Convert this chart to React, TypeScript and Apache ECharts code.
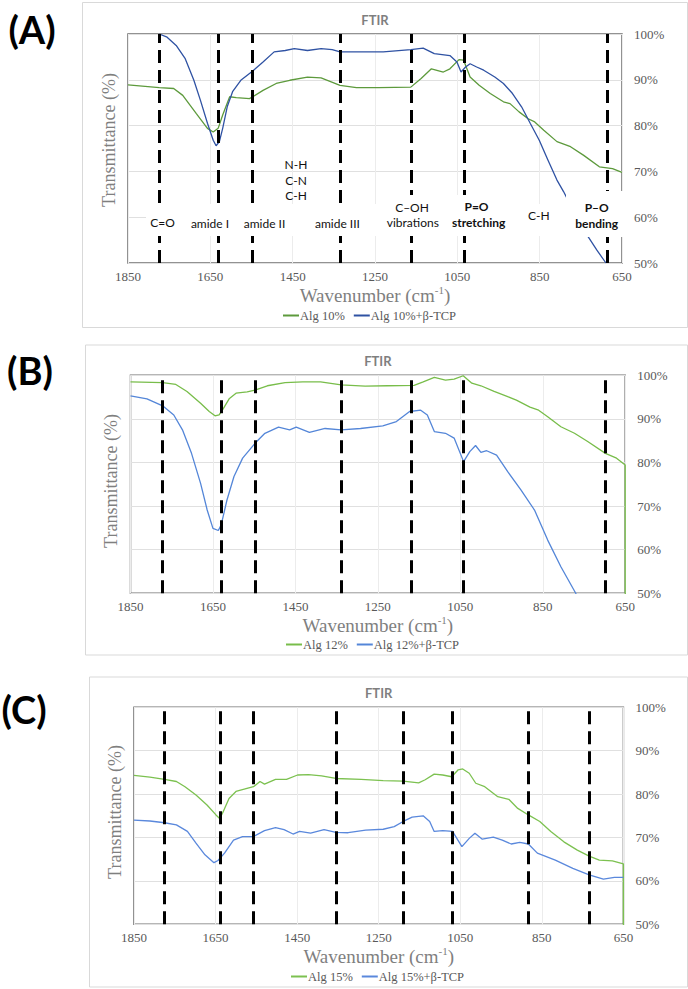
import React, { useEffect, useRef } from "react";
import * as echarts from "echarts";

// ---------- Panel A : Alg 10% ----------
const wnAlg10 = [1850,1774,1739,1717,1684,1657,1643,1631,1620,1603,1587,1555,1547,1522,1490,1457,1414,1381,1335,1295,1241,1163,1138,1113,1084,1068,1046,1035,1019,997,970,938,922,900,878,862,840,808,775,743,705,673,650];
const tAlg10 = [88.9,88.3,88.1,86.6,82.6,79.4,78.6,79.4,82.3,86.3,86.1,85.9,86.3,87.7,89.2,89.9,90.6,90.4,88.8,88.3,88.3,88.4,90.3,92.4,91.7,92.4,94.4,94.3,90.6,88.8,87.0,85.2,84.8,83.0,81.5,80.8,79.0,76.5,75.4,73.5,71.0,70.6,69.8];
const wnAlg10TCP = [1774,1755,1733,1711,1690,1674,1657,1643,1636,1628,1620,1609,1596,1576,1547,1522,1495,1468,1446,1414,1381,1354,1335,1295,1230,1163,1133,1106,1068,1051,1041,1030,1019,1003,986,959,938,916,894,873,851,830,808,792,765,732,711,689];
const tAlg10TCP = [100,99.3,97.5,94.6,89.9,85.5,80.5,76.8,75.6,76.5,79.4,84.1,87.4,89.9,91.9,93.9,96.1,96.4,96.8,96.4,96.8,96.6,96.1,96.1,96.1,96.6,96.9,95.7,95.3,93.9,91.7,92.8,93.5,92.8,92.1,90.6,89.2,87.0,84.1,80.5,76.8,72.5,68.1,65.6,60.8,55.7,52.8,50.0];
const dashA = [1774,1631,1547,1335,1163,1034,685];

// ---------- Panel B : Alg 12% ----------
const wnAlg12 = [1850,1772,1740,1713,1680,1659,1645,1635,1626,1610,1594,1567,1548,1518,1475,1432,1389,1339,1281,1227,1162,1140,1113,1086,1065,1043,1022,1000,968,935,914,881,860,838,806,773,741,698,671,650,650];
const tAlg12 = [98.5,98.3,97.9,96.3,93.6,91.7,90.7,90.9,92.2,94.7,95.9,96.2,96.6,97.6,98.3,98.5,98.5,97.8,97.5,97.6,97.7,98.5,99.5,98.9,99.1,99.9,98.2,97.6,96.3,95.1,94.3,92.7,92.0,90.5,88.2,86.7,84.8,82.1,81.0,79.4,0];
const wnAlg12TCP = [1850,1810,1772,1745,1724,1702,1680,1664,1650,1637,1630,1616,1599,1578,1548,1524,1491,1464,1448,1416,1378,1339,1292,1238,1205,1173,1146,1130,1113,1086,1065,1042,1027,1013,1000,986,962,935,903,870,838,806,770,740];
const tAlg12TCP = [95.3,94.6,93.0,90.9,87.5,82.1,75.2,69.1,64.9,64.4,65.7,71.4,76.8,81.0,84.4,86.7,88.1,87.5,88.1,86.9,87.8,87.5,87.8,88.4,89.4,91.7,92.0,90.9,87.1,86.7,85.6,80.2,82.5,83.9,82.3,82.7,81.7,77.9,73.7,69.1,62.2,56.1,50.0,45.0];
const dashB = [1772,1630,1548,1339,1168,1042,698];

// ---------- Panel C : Alg 15% ----------
const wnAlg15 = [1850,1811,1775,1746,1725,1698,1671,1649,1640,1633,1617,1600,1573,1557,1541,1530,1503,1476,1449,1422,1390,1355,1293,1239,1190,1152,1136,1114,1093,1071,1055,1044,1028,1012,990,958,931,909,883,855,828,796,763,734,709,677,650,650];
const tAlg15 = [84.3,83.9,83.4,82.9,81.7,79.8,77.5,75.2,74.4,75.6,79.0,80.6,81.3,81.7,82.9,82.3,83.4,83.4,84.4,84.5,84.2,83.6,83.4,83.1,83.0,82.6,83.3,84.6,84.4,84.0,85.6,85.8,84.8,82.5,81.7,79.4,78.8,76.7,75.2,73.7,71.4,69.0,67.1,65.7,64.8,64.6,63.9,0];
const wnAlg15TCP = [1850,1811,1775,1746,1719,1698,1676,1654,1644,1628,1606,1584,1557,1530,1503,1482,1460,1444,1417,1384,1355,1325,1282,1239,1212,1190,1168,1141,1125,1114,1093,1069,1046,1028,1014,996,969,947,925,904,883,861,817,774,734,699,672,650];
const tAlg15TCP = [74.0,73.8,73.4,72.9,71.4,68.7,66.0,64.2,64.7,66.4,69.4,70.2,70.2,71.6,72.3,71.8,70.8,71.4,71.0,71.8,71.2,71.1,71.7,71.9,72.5,73.7,74.7,75.0,73.7,71.4,71.6,71.4,67.9,69.8,71.0,69.6,70.1,69.4,68.5,68.9,68.5,66.4,64.8,62.9,61.4,60.4,60.8,60.8];
const dashC = [1775,1638,1557,1355,1190,1069,883,734];

const seriesNames = [
  ["Alg 10%", "Alg 10%+β-TCP"],
  ["Alg 12%", "Alg 12%+β-TCP"],
  ["Alg 15%", "Alg 15%+β-TCP"],
];
const panelLetters = ["(A)", "(B)", "(C)"];
const yTicks = [50, 60, 70, 80, 90, 100];

const pairs = (w: number[], t: number[]) => w.map((x, i) => [x, t[i]]);

const SERIF = "Liberation Serif";
const SANS = "Lato";

// layout (pixels)
const grids = [
  { left: 128, top: 34, width: 494, height: 229 },
  { left: 130.5, top: 375.3, width: 494.7, height: 218 },
  { left: 134, top: 707.3, width: 489.4, height: 217 },
];
const boxes = [
  { x: 82.5, y: 2.5, w: 605, h: 325 },
  { x: 85.5, y: 345, w: 602, h: 310 },
  { x: 89.5, y: 677, w: 598, h: 310 },
];
const colors = [
  ["#5d9a3c", "#2f52a3"],
  ["#78bd4a", "#5486d8"],
  ["#7cc150", "#5a88dc"],
];
const legendPos = [
  { left: 283, top: 309 },
  { left: 286, top: 638 },
  { left: 291, top: 970 },
];
const letterPos = [
  { x: 32, y: 29 },
  { x: 30, y: 370 },
  { x: 24, y: 709 },
];
const yTitlePos = [
  { x: 109, y: 140 },
  { x: 110.5, y: 481 },
  { x: 114.5, y: 812 },
];

export default function App() {
  const ref = useRef<HTMLDivElement>(null);
  useEffect(() => {
    document.body.style.margin = "0";
    const chart = echarts.init(ref.current!, undefined, { renderer: "svg" });

    const data = [
      [pairs(wnAlg10, tAlg10), pairs(wnAlg10TCP, tAlg10TCP)],
      [pairs(wnAlg12, tAlg12), pairs(wnAlg12TCP, tAlg12TCP)],
      [pairs(wnAlg15, tAlg15), pairs(wnAlg15TCP, tAlg15TCP)],
    ];
    const dashes = [dashA, dashB, dashC];

    const series: any[] = [];
    for (let p = 0; p < 3; p++) {
      for (let s = 0; s < 2; s++) {
        const ser: any = {
          type: "line",
          name: seriesNames[p][s],
          xAxisIndex: p,
          yAxisIndex: p,
          data: data[p][s],
          showSymbol: false,
          symbol: "none",
          clip: true,
          lineStyle: { color: colors[p][s], width: 1.3 },
          itemStyle: { color: colors[p][s] },
          emphasis: { disabled: true },
          z: 3,
        };
        if (s === 1) {
          ser.markLine = {
            silent: true,
            symbol: ["none", "none"],
            label: { show: false },
            lineStyle: { color: "#000", width: 3, type: [13, 7] },
            emphasis: { disabled: true },
            data: dashes[p].map((v) => ({ xAxis: v })),
          };
        }
        series.push(ser);
      }
    }

    const graphic: any[] = [];
    boxes.forEach((b) =>
      graphic.push({
        type: "rect",
        z: -10,
        shape: { x: b.x, y: b.y, width: b.w, height: b.h },
        style: { fill: "#fff", stroke: "#d9d9d9", lineWidth: 1 },
      })
    );
    grids.forEach((g, i) => {
      graphic.push({
        type: "text",
        z: 10,
        x: g.left + g.width / 2,
        y: g.top - 14,
        style: { text: "FTIR", font: `bold 13px ${SANS}`, fill: "#7f7f7f", align: "center", verticalAlign: "middle" },
      });
      graphic.push({
        type: "text",
        z: 10,
        x: letterPos[i].x,
        y: letterPos[i].y,
        style: { text: panelLetters[i], font: `bold 38px ${SANS}`, fill: "#000", align: "center", verticalAlign: "middle" },
      });
      graphic.push({
        type: "text",
        z: 10,
        x: yTitlePos[i].x,
        y: yTitlePos[i].y,
        rotation: Math.PI / 2,
        style: { text: "Transmittance (%)", font: `18px ${SERIF}`, fill: "#7f7f7f", align: "center", verticalAlign: "middle" },
      });
    });

    // annotation boxes in panel A (white label boxes over the dashed lines)
    const covers = [
      { x: 146, y: 204, w: 480, h: 32 },
      { x: 386, y: 195, w: 54, h: 41 },
      { x: 452, y: 195, w: 54, h: 41 },
      { x: 566, y: 191, w: 60, h: 46 },
    ];
    covers.forEach((c) =>
      graphic.push({
        type: "rect",
        z: 50,
        shape: { x: c.x, y: c.y, width: c.w, height: c.h },
        style: { fill: "#fff" },
      })
    );
    const notes: [string, number, number, boolean][] = [
      ["C=O", 162.5, 222.7, false],
      ["amide I", 210, 223, false],
      ["amide II", 264.5, 223, false],
      ["N-H", 296, 164.3, false],
      ["C-N", 296, 180, false],
      ["C-H", 296, 195, false],
      ["amide III", 337.5, 223, false],
      ["C–OH", 412, 207.3, false],
      ["vibrations", 412.8, 222.7, false],
      ["P=O", 476.5, 206, true],
      ["stretching", 478.7, 222, true],
      ["C-H", 538.8, 215, false],
      ["P–O", 596.7, 207.3, true],
      ["bending", 596.7, 223.3, true],
    ];
    notes.forEach(([t, x, y, b]) =>
      graphic.push({
        type: "text",
        z: 60,
        x,
        y,
        style: { text: t, font: `${b ? "bold " : ""}12px ${SANS}`, fill: "#111", align: "center", verticalAlign: "middle" },
      })
    );

    chart.setOption({
      animation: false,
      backgroundColor: "#fff",
      grid: grids.map((g) => ({
        ...g,
        show: true,
        borderColor: "#6f6f6f",
        borderWidth: 1.5,
        backgroundColor: "transparent",
        containLabel: false,
      })),
      xAxis: grids.map((_, i) => ({
        gridIndex: i,
        type: "value",
        min: 650,
        max: 1850,
        interval: 200,
        inverse: true,
        axisLine: { show: false },
        axisTick: { show: false },
        axisLabel: {
          color: "#595959",
          fontFamily: SERIF,
          fontSize: 13,
          margin: 7,
          formatter: (v: number) => String(v),
        },
        splitLine: { show: true, lineStyle: { color: "#ececec", width: 1 } },
        name: "{t|Wavenumber (cm}{s|-1}{t|)}",
        nameLocation: "middle",
        nameGap: 21,
        nameTextStyle: {
          rich: {
            t: { fontFamily: SERIF, fontSize: 19, color: "#7f7f7f", lineHeight: 22 },
            s: { fontFamily: SERIF, fontSize: 11, color: "#7f7f7f", lineHeight: 22, verticalAlign: "top" },
          },
        },
      })),
      yAxis: grids.map((_, i) => ({
        gridIndex: i,
        type: "value",
        min: yTicks[0],
        max: yTicks[yTicks.length - 1],
        interval: 10,
        position: "right",
        axisLine: { show: false },
        axisTick: { show: false },
        axisLabel: { formatter: "{value}%", color: "#595959", fontFamily: SERIF, fontSize: 13, margin: 12 },
        splitLine: { show: true, lineStyle: { color: "#e0e0e0", width: 1 } },
      })),
      legend: seriesNames.map((names, i) => ({
        data: names,
        left: legendPos[i].left,
        top: legendPos[i].top,
        padding: 0,
        icon: "rect",
        itemWidth: 16,
        itemHeight: 2,
        itemGap: 9,
        selectedMode: false,
        textStyle: { fontFamily: SERIF, fontSize: 12.5, color: "#595959", padding: [0, 0, 0, -4] },
      })),
      series,
      graphic,
    });
    return () => chart.dispose();
  }, []);
  return <div ref={ref} style={{ width: 688, height: 989 }} />;
}
